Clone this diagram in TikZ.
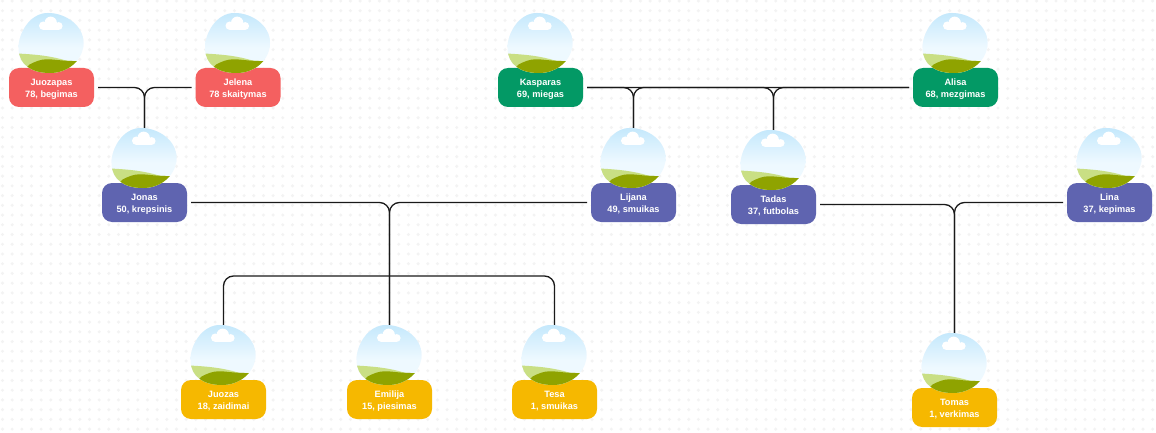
\documentclass[tikz,border=0pt]{standalone}
\usepackage{fontspec}
\setmainfont{Liberation Sans}
\definecolor{pred}{HTML}{F46060}
\definecolor{ppurple}{HTML}{5F64B0}
\definecolor{pgreen}{HTML}{039965}
\definecolor{pyellow}{HTML}{F6B800}
\definecolor{skytop}{HTML}{C4E8FC}
\definecolor{skylow}{HTML}{EEF9FF}
\definecolor{hilllight}{HTML}{C9DF84}
\definecolor{hilldark}{HTML}{8FA300}
\definecolor{griddot}{HTML}{F3F3F3}
\tikzset{
  personbox/.style={rectangle,rounded corners=10pt,minimum width=85pt,minimum height=39pt,
    inner sep=0pt,outer sep=4pt,text=white,align=center,
    font=\fontsize{9.2}{12}\selectfont\bfseries,
    execute at begin node={\rule{0pt}{21pt}}},
  link/.style={draw=black!90,line width=1.3pt,rounded corners=10pt},
  blobpic/.pic={
    \def\blobpath{(-3.5,-74.5) .. controls (13.5,-74.5) and (32,-62.5) .. (32,-44.5)
      .. controls (32,-27.5) and (16.5,-14.5) .. (-1.5,-14.5)
      .. controls (-19.5,-14.5) and (-33,-22.5) .. (-33,-39.5)
      .. controls (-33,-54.5) and (-21.5,-74.5) .. (-3.5,-74.5) -- cycle}
    \begin{scope}
      \clip \blobpath;
      \fill[skylow] (-34,-75) rectangle (33,-14);
      \shade[top color=skytop,bottom color=skylow] (-34,-75) rectangle (33,-40);
      \fill[hilllight] (-34,-34) .. controls (-15,-33) and (0,-31.5) .. (15,-26.8)
        -- (33,-26) -- (33,-14) -- (-34,-14) -- cycle;
      \fill[hilldark] (-22,-23) .. controls (-16,-26) and (-11,-28.2) .. (-4.8,-28.2)
        .. controls (3,-28.2) and (8,-27) .. (14,-26.8)
        .. controls (20,-26.5) and (25,-26.2) .. (33,-26.5)
        -- (33,-14) -- (-30,-14) -- cycle;
    \end{scope}
    \fill[white] (-0.8,-64.7) circle (6.2);
    \fill[white] (-8.3,-61.8) circle (4.2);
    \fill[white] (7.2,-61.5) circle (3.9);
    \fill[white] (-8.3,-62) rectangle (7.2,-57.6);
  }
}
\begin{document}
\begin{tikzpicture}[x=1pt,y=-1pt]
\useasboundingbox (0,0) rectangle (1156,433);
\fill[white] (0,0) rectangle (1156,433);
\foreach \i in {0,...,119}{\foreach \j in {0,...,44}{
  \fill[griddot] ({2.5+9.665*\i},{1+9.73*\j}) circle (1.7);}}
% boxes
\node[personbox,fill=pred] (juozapas) at (51.5,87.5) {Juozapas\\78, begimas};
\node[personbox,fill=pred] (jelena) at (238,87.5) {Jelena\\78 skaitymas};
\node[personbox,fill=pgreen] (kasparas) at (540.5,87.5) {Kasparas\\69, miegas};
\node[personbox,fill=pgreen] (alisa) at (955.5,87.5) {Alisa\\68, mezgimas};
\node[personbox,fill=ppurple] (jonas) at (144.5,202.5) {Jonas\\50, krepsinis};
\node[personbox,fill=ppurple] (lijana) at (633.5,202.5) {Lijana\\49, smuikas};
\node[personbox,fill=ppurple] (tadas) at (773.5,204.5) {Tadas\\37, futbolas};
\node[personbox,fill=ppurple] (lina) at (1109.5,202.5) {Lina\\37, kepimas};
\node[personbox,fill=pyellow] (juozas) at (223.5,399.5) {Juozas\\18, zaidimai};
\node[personbox,fill=pyellow] (emilija) at (389.5,399.5) {Emilija\\15, piesimas};
\node[personbox,fill=pyellow] (tesa) at (554.5,399.5) {Tesa\\1, smuikas};
\node[personbox,fill=pyellow] (tomas) at (954.5,407.5) {Tomas\\1, verkimas};
% connector ends at the tops of the round pictures
\coordinate (jonastop) at ([yshift=70pt]jonas.center);
\coordinate (lijanatop) at ([yshift=70pt]lijana.center);
\coordinate (tadastop) at ([yshift=70pt]tadas.center);
\coordinate (juozastop) at ([yshift=70pt]juozas.center);
\coordinate (emilijatop) at ([yshift=70pt]emilija.center);
\coordinate (tesatop) at ([yshift=70pt]tesa.center);
\coordinate (tomastop) at ([yshift=70pt]tomas.center);
\coordinate (branch) at (389.5,276);
% connectors
\draw[link] (juozapas.east) -| (jonastop);
\draw[link] (jelena.west) -| (jonastop);
\draw[link] (kasparas.east) -| (lijanatop);
\draw[link] (alisa.west) -| (lijanatop);
\draw[link] (kasparas.east) -| (tadastop);
\draw[link] (alisa.west) -| (tadastop);
\draw[link] (jonas.east) -| (emilijatop);
\draw[link] (lijana.west) -| (emilijatop);
\draw[link] (branch) -| (juozastop);
\draw[link] (branch) -| (tesatop);
\draw[link] (tadas.east) -| (tomastop);
\draw[link] (lina.west) -| (tomastop);
% round pictures
\foreach \p in {juozapas,jelena,kasparas,alisa,jonas,lijana,tadas,lina,juozas,emilija,tesa,tomas}
  \pic at (\p) {blobpic};
\end{tikzpicture}
\end{document}
